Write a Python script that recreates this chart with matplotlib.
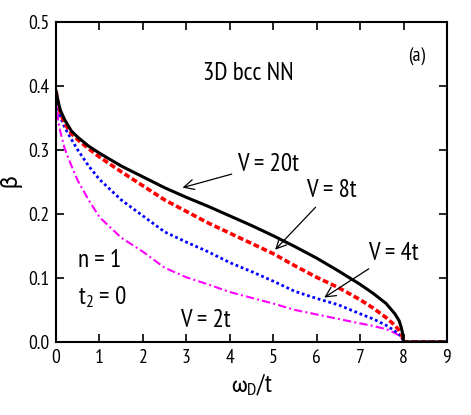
import numpy as np
import matplotlib
matplotlib.use("Agg")
import matplotlib.pyplot as plt

plt.rcParams['font.family'] = ['PT Sans Narrow', 'DejaVu Sans']
plt.rcParams['mathtext.fontset'] = 'custom'
plt.rcParams['mathtext.rm'] = 'PT Sans Narrow'
plt.rcParams['mathtext.it'] = 'PT Sans Narrow'
plt.rcParams['mathtext.fallback'] = 'stixsans'

# omega_D / t grid
wd = [0, 0.05, 0.1, 0.2, 0.35, 0.5, 0.75, 1, 1.5, 2, 2.5, 3, 3.5, 4, 4.5, 5,
      5.5, 6, 6.5, 7, 7.3, 7.6, 7.8, 7.9, 7.95, 7.98, 8, 9]

beta_v20 = [0.392, 0.375, 0.362, 0.347, 0.330, 0.320, 0.306, 0.295, 0.275, 0.258,
            0.241, 0.226, 0.212, 0.197, 0.182, 0.166, 0.149, 0.131, 0.111, 0.090,
            0.076, 0.060, 0.044, 0.033, 0.022, 0.013, 0.0, 0.0]
beta_v8 = [0.392, 0.372, 0.358, 0.341, 0.326, 0.316, 0.302, 0.289, 0.266, 0.244,
           0.222, 0.204, 0.186, 0.170, 0.154, 0.138, 0.119, 0.101, 0.085, 0.066,
           0.053, 0.038, 0.026, 0.018, 0.012, 0.007, 0.0, 0.0]
beta_v4 = [0.390, 0.365, 0.352, 0.335, 0.317, 0.300, 0.275, 0.254, 0.222, 0.197,
           0.172, 0.156, 0.141, 0.124, 0.110, 0.095, 0.079, 0.068, 0.058, 0.044,
           0.036, 0.026, 0.017, 0.012, 0.008, 0.005, 0.0, 0.0]
beta_v2 = [0.385, 0.345, 0.328, 0.302, 0.276, 0.252, 0.222, 0.195, 0.163, 0.141,
           0.116, 0.101, 0.090, 0.078, 0.069, 0.060, 0.050, 0.043, 0.036, 0.029,
           0.025, 0.020, 0.014, 0.010, 0.006, 0.003, 0.0, 0.0]

fig = plt.figure(figsize=(4.71, 4.15), dpi=100)
ax = fig.add_axes([0.119, 0.176, 0.830, 0.771])

ax.plot(wd, beta_v2, color='magenta', lw=1.5, ls=(0, (4, 1.5, 1, 1.5)))
ax.plot(wd, beta_v4, color='blue', lw=2.0, ls=(0, (1, 1)))
ax.plot(wd, beta_v8, color='red', lw=2.6, ls=(0, (1.6, 0.8)))
ax.plot(wd, beta_v20, color='black', lw=2.2)

ax.set_xlim(0, 9)
ax.set_ylim(0, 0.5)
ax.set_xticks(range(10))
ax.set_yticks([0, 0.1, 0.2, 0.3, 0.4, 0.5])
ax.set_yticklabels(['0.0', '0.1', '0.2', '0.3', '0.4', '0.5'])
ax.tick_params(direction='in', top=True, right=True, length=6, width=1.2,
               labelsize=14, pad=5)
for s in ax.spines.values():
    s.set_linewidth(1.5)

ax.set_xlabel(r'$\mathrm{\omega_D}$/t', fontsize=18, labelpad=3)
ax.set_ylabel(r'$\mathrm{\beta}$', fontsize=18, labelpad=2)

ax.text(4.42, 0.42, '3D bcc NN', fontsize=18, ha='center', va='center')
ax.text(8.31, 0.445, '(a)', fontsize=14, ha='center', va='center')
ax.text(0.51, 0.128, 'n = 1', fontsize=18, ha='left', va='center')
ax.text(0.51, 0.07, r't$_2$ = 0', fontsize=18, ha='left', va='center')
ax.text(2.85, 0.034, 'V = 2t', fontsize=18, ha='left', va='center')

arrow = dict(arrowstyle='->', color='black', lw=0.9)
ax.annotate('V = 20t', xy=(2.85, 0.24), xytext=(4.17, 0.278), fontsize=18,
            ha='left', va='center', arrowprops=arrow)
ax.annotate('V = 8t', xy=(5.0, 0.141), xytext=(5.75, 0.236), fontsize=18,
            ha='left', va='center', arrowprops=arrow)
ax.annotate('V = 4t', xy=(6.12, 0.067), xytext=(7.18, 0.139), fontsize=18,
            ha='left', va='center', arrowprops=arrow)

fig.savefig('out.png', dpi=100)
